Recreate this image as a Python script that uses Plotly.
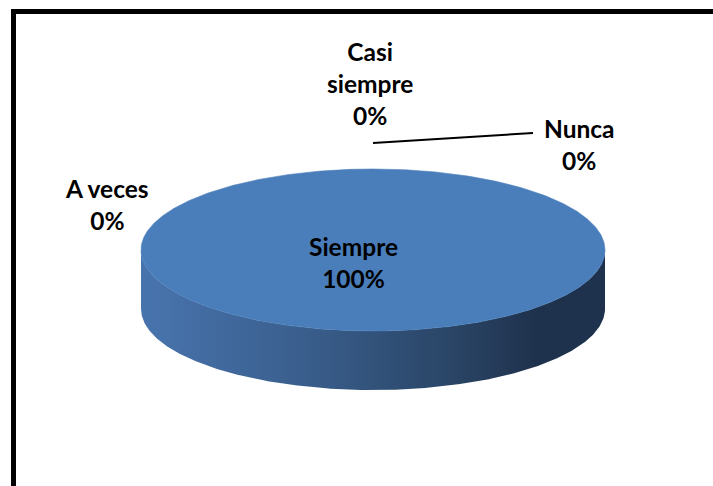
import numpy as np
import plotly.graph_objects as go

# ---- data ----
categories = ["Siempre", "A veces", "Casi siempre", "Nunca"]
values = [100, 0, 0, 0]
label_lines = ["Siempre", "A veces", "Casi<br>siempre", "Nunca"]

# ---- layout / style ----
W, H = 713, 486
CX, CY, RX, RY, DEPTH = 373, 250, 232, 81, 59
TOP_COLOR = "#4A7EBB"
SIDE_SCALE = [[0, "#4874AE"], [0.34, "#3A5F8E"], [0.67, "#2A4566"],
              [0.85, "#1F324D"], [1, "#1F324D"]]
label_pos = {
    "Siempre": (353, 262),
    "A veces": (107, 204),
    "Casi siempre": (370, 83),
    "Nunca": (579, 144),
}

total = float(sum(values))
fracs = [v / total for v in values]

fig = go.Figure()

start = -np.pi / 2
tops = []
for cat, f in zip(categories, fracs):
    if f <= 0:
        continue
    t = np.linspace(start, start + 2 * np.pi * f, 721)
    # front side (visible where sin(t) >= 0 in screen coords)
    ts = np.sort(np.mod(t[np.sin(t) >= 0], 2 * np.pi))
    if len(ts) > 1:
        xs_top = CX + RX * np.cos(ts)
        ys_top = CY + RY * np.sin(ts)
        xs = np.concatenate([xs_top, xs_top[::-1]])
        ys = np.concatenate([ys_top, ys_top[::-1] + DEPTH])
        fig.add_trace(go.Scatter(
            x=xs, y=ys, mode="lines", fill="toself",
            line=dict(width=0), hoverinfo="skip", showlegend=False,
            fillgradient=dict(type="horizontal", colorscale=SIDE_SCALE),
        ))
    if f >= 1:
        xt = CX + RX * np.cos(t)
        yt = CY + RY * np.sin(t)
    else:
        xt = np.concatenate([[CX], CX + RX * np.cos(t), [CX]])
        yt = np.concatenate([[CY], CY + RY * np.sin(t), [CY]])
    tops.append(go.Scatter(
        x=xt, y=yt, mode="lines", fill="toself", fillcolor=TOP_COLOR,
        line=dict(width=0.6, color=TOP_COLOR), hoverinfo="skip",
        showlegend=False, name=cat,
    ))
    start += 2 * np.pi * f
for tr in tops:
    fig.add_trace(tr)

for cat, lab, f in zip(categories, label_lines, fracs):
    x, y = label_pos[cat]
    fig.add_annotation(
        x=x, y=y, xref="x", yref="y", showarrow=False,
        text=f"{lab}<br>{round(f * 100)}%",
        font=dict(family="Lato, Carlito, sans-serif", size=24.5, color="#000000",
                  weight="bold"),
        xanchor="center", yanchor="middle", align="center",
    )

# leader line for "Nunca"
fig.add_shape(type="line", xref="x", yref="y", x0=373, y0=143, x1=533, y1=133,
              line=dict(color="#000000", width=2))

# outer frame
fig.add_shape(type="rect", xref="x", yref="y", x0=13.5, y0=11.5, x1=730, y1=520,
              line=dict(color="#000000", width=5), fillcolor="rgba(0,0,0,0)")

fig.update_xaxes(range=[0, W], visible=False, fixedrange=True)
fig.update_yaxes(range=[H, 0], visible=False, fixedrange=True)
fig.update_layout(
    width=W, height=H, autosize=False,
    margin=dict(l=0, r=0, t=0, b=0),
    paper_bgcolor="white", plot_bgcolor="white",
)
fig.write_html("out.html", config={"displayModeBar": False},
               post_script="document.body.style.margin='0';document.body.style.overflow='hidden';")
